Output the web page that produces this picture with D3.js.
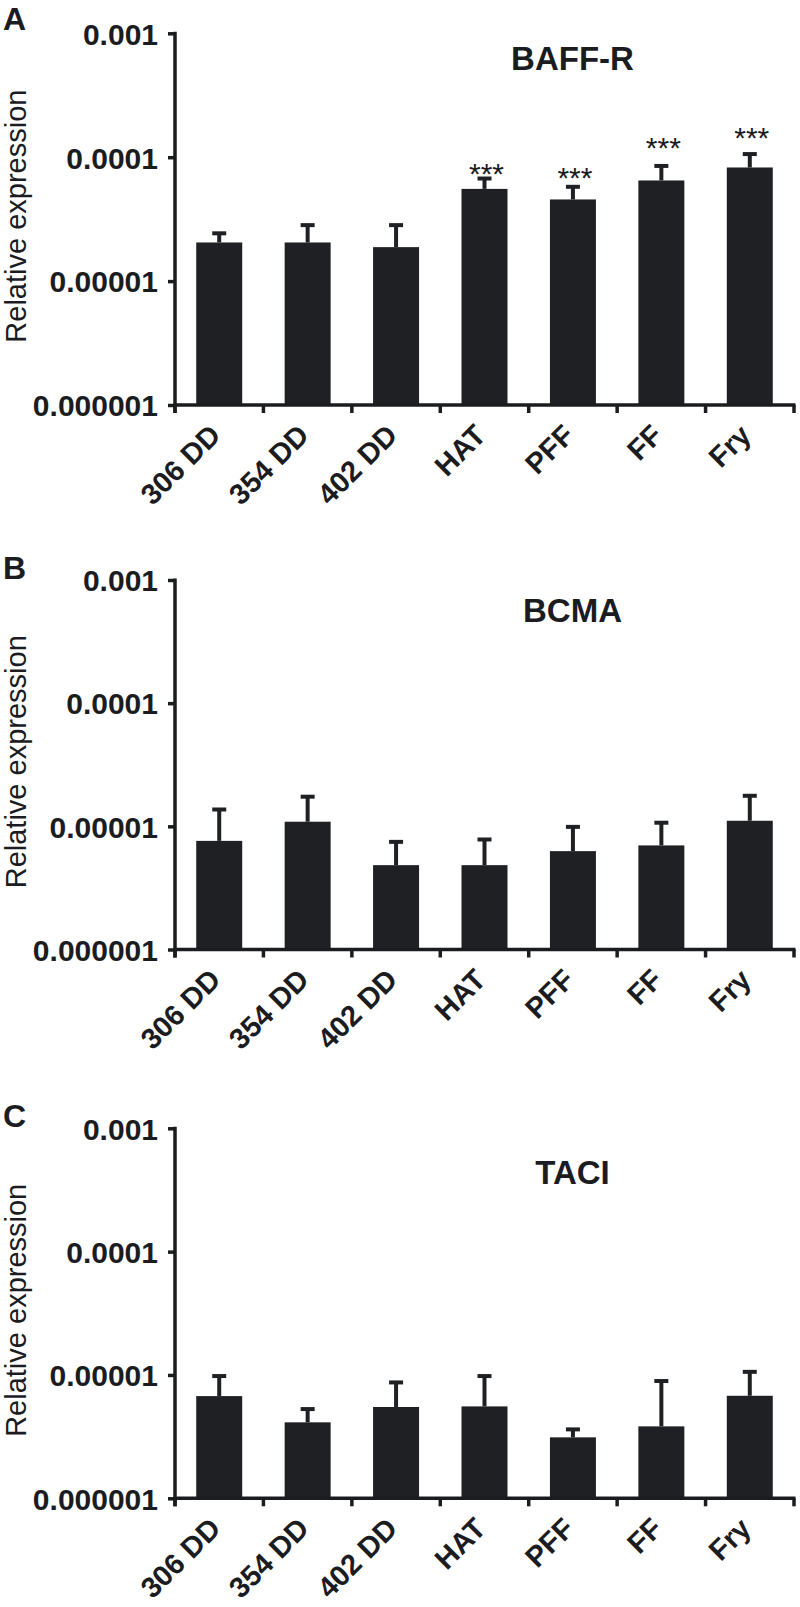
<!DOCTYPE html>
<html>
<head>
<meta charset="utf-8">
<script src="https://cdn.jsdelivr.net/npm/d3@7"></script>
<style>
  html, body { margin: 0; padding: 0; background: #ffffff; }
  svg { display: block; }
</style>
</head>
<body>
<svg id="chart" width="800" height="1607"></svg>
<script>
// ---------------- DATA ----------------
const categories = ["306 DD", "354 DD", "402 DD", "HAT", "PFF", "FF", "Fry"];

const baffrMean  = [2.05e-5, 2.05e-5, 1.88e-5, 5.55e-5, 4.56e-5, 6.49e-5, 8.26e-5];
const baffrUpper = [2.43e-5, 2.83e-5, 2.83e-5, 6.73e-5, 5.77e-5, 8.50e-5, 1.06e-4];
const baffrStars = ["", "", "", "***", "***", "***", "***"];
const baffrStarLevel = [null, null, null, 8.3e-5, 7.76e-5, 1.35e-4, 1.63e-4];

const bcmaMean  = [7.62e-6, 1.09e-5, 4.84e-6, 4.84e-6, 6.29e-6, 7.00e-6, 1.11e-5];
const bcmaUpper = [1.37e-5, 1.74e-5, 7.48e-6, 7.82e-6, 9.90e-6, 1.07e-5, 1.77e-5];

const taciMean  = [6.74e-6, 4.13e-6, 5.50e-6, 5.56e-6, 3.12e-6, 3.83e-6, 6.78e-6];
const taciUpper = [9.80e-6, 5.29e-6, 8.70e-6, 9.80e-6, 3.62e-6, 8.93e-6, 1.06e-5];

const yTickValues = [1e-6, 1e-5, 1e-4, 1e-3];
const yTickLabels = ["0.000001", "0.00001", "0.0001", "0.001"];
const yDomain = [1e-6, 1e-3];

const panelLetters = ["A", "B", "C"];
const panelTitles = ["BAFF-R", "BCMA", "TACI"];
const yAxisTitle = "Relative expression";

const panels = [
  { mean: baffrMean, upper: baffrUpper, stars: baffrStars, starLevel: baffrStarLevel },
  { mean: bcmaMean,  upper: bcmaUpper,  stars: null, starLevel: null },
  { mean: taciMean,  upper: taciUpper,  stars: null, starLevel: null }
];

// ---------------- LAYOUT ----------------
const panelTop    = [33.3, 580, 1128.3];
const panelBottom = [405, 949.5, 1498.3];
const titleBase   = [70, 621.7, 1184.3];
const letterBase  = [30, 579, 1127];
const xLeft = 175, xRight = 794;
const ink = "#1b1c1f";
const barFill = "#1f2024";
const axisW = 3.5;
const FONT = "'Liberation Sans', Arial, sans-serif";

const svg = d3.select("#chart");

panels.forEach((p, pi) => {
  const top = panelTop[pi], bottom = panelBottom[pi];
  const g = svg.append("g");

  const x = d3.scaleBand().domain(categories).range([xLeft, xRight]).padding(0);
  const y = d3.scaleLog().domain(yDomain).range([bottom, top]);
  const barW = x.bandwidth() * 0.52;
  const cx = d => x(d) + x.bandwidth() / 2;

  // bars
  g.selectAll("rect.bar").data(categories).enter().append("rect")
    .attr("class", "bar")
    .attr("x", d => cx(d) - barW / 2)
    .attr("width", barW)
    .attr("y", (d, i) => y(p.mean[i]))
    .attr("height", (d, i) => bottom - y(p.mean[i]))
    .attr("fill", barFill);

  // error bars (upper only)
  g.selectAll("line.stem").data(categories).enter().append("line")
    .attr("x1", d => cx(d)).attr("x2", d => cx(d))
    .attr("y1", (d, i) => y(p.mean[i]))
    .attr("y2", (d, i) => y(p.upper[i]))
    .attr("stroke", barFill).attr("stroke-width", 4);
  g.selectAll("line.cap").data(categories).enter().append("line")
    .attr("x1", d => cx(d) - 7).attr("x2", d => cx(d) + 7)
    .attr("y1", (d, i) => y(p.upper[i]))
    .attr("y2", (d, i) => y(p.upper[i]))
    .attr("stroke", barFill).attr("stroke-width", 4);

  // significance stars
  if (p.stars) {
    g.selectAll("text.star").data(categories.filter((d, i) => p.stars[i] !== "")).enter()
      .append("text")
      .attr("x", d => cx(d) + 2)
      .attr("y", d => y(p.starLevel[categories.indexOf(d)]) + 17)
      .attr("text-anchor", "middle")
      .attr("font-family", FONT)
      .attr("font-size", 30)
      .attr("fill", ink)
      .text(d => p.stars[categories.indexOf(d)]);
  }

  // y axis
  const yAxis = d3.axisLeft(y)
    .tickValues(yTickValues)
    .tickFormat((d, i) => yTickLabels[i])
    .tickSize(7)
    .tickSizeOuter(0)
    .tickPadding(10);
  const ya = g.append("g").attr("transform", `translate(${xLeft},0)`).call(yAxis);
  ya.select(".domain").attr("stroke", ink).attr("stroke-width", axisW)
    .attr("d", `M0,${top - 1.5}V${bottom + 8}`);
  ya.selectAll(".tick line").attr("stroke", ink).attr("stroke-width", axisW);
  ya.selectAll(".tick text")
    .attr("font-family", FONT)
    .attr("font-weight", "bold")
    .attr("font-size", 30)
    .attr("fill", ink)
    .attr("dy", "0.36em");

  // x axis line
  const xa = g.append("g").attr("transform", `translate(0,${bottom})`)
    .call(d3.axisBottom(x).tickSize(0).tickSizeOuter(0).tickFormat(""));
  xa.select(".domain").attr("stroke", ink).attr("stroke-width", axisW)
    .attr("d", `M${xLeft - 1.5},0H${xRight + 1.5}`);

  // rotated category labels
  g.selectAll("text.xlab").data(categories).enter().append("text")
    .attr("class", "xlab")
    .attr("transform", d => `translate(${cx(d) + 3},${bottom + 32}) rotate(-45)`)
    .attr("text-anchor", "end")
    .attr("font-family", FONT)
    .attr("font-weight", "bold")
    .attr("font-size", 29)
    .attr("fill", ink)
    .text(d => d);

  // x ticks at band boundaries
  const bounds = categories.map(d => x(d)).concat([xRight]);
  g.selectAll("line.xtick").data(bounds).enter().append("line")
    .attr("x1", d => d).attr("x2", d => d)
    .attr("y1", bottom).attr("y2", bottom + 8)
    .attr("stroke", ink).attr("stroke-width", axisW);

  // y axis title
  g.append("text")
    .attr("transform", `translate(26,${(top + bottom) / 2 - 3}) rotate(-90)`)
    .attr("text-anchor", "middle")
    .attr("font-family", FONT)
    .attr("font-size", 29)
    .attr("fill", ink)
    .text(yAxisTitle);

  // panel title
  g.append("text")
    .attr("x", 572.5).attr("y", titleBase[pi])
    .attr("text-anchor", "middle")
    .attr("font-family", FONT)
    .attr("font-weight", "bold")
    .attr("font-size", 33)
    .attr("fill", ink)
    .text(panelTitles[pi]);

  // panel letter
  g.append("text")
    .attr("x", 3).attr("y", letterBase[pi])
    .attr("font-family", FONT)
    .attr("font-weight", "bold")
    .attr("font-size", 32)
    .attr("fill", ink)
    .text(panelLetters[pi]);
});
</script>
</body>
</html>
